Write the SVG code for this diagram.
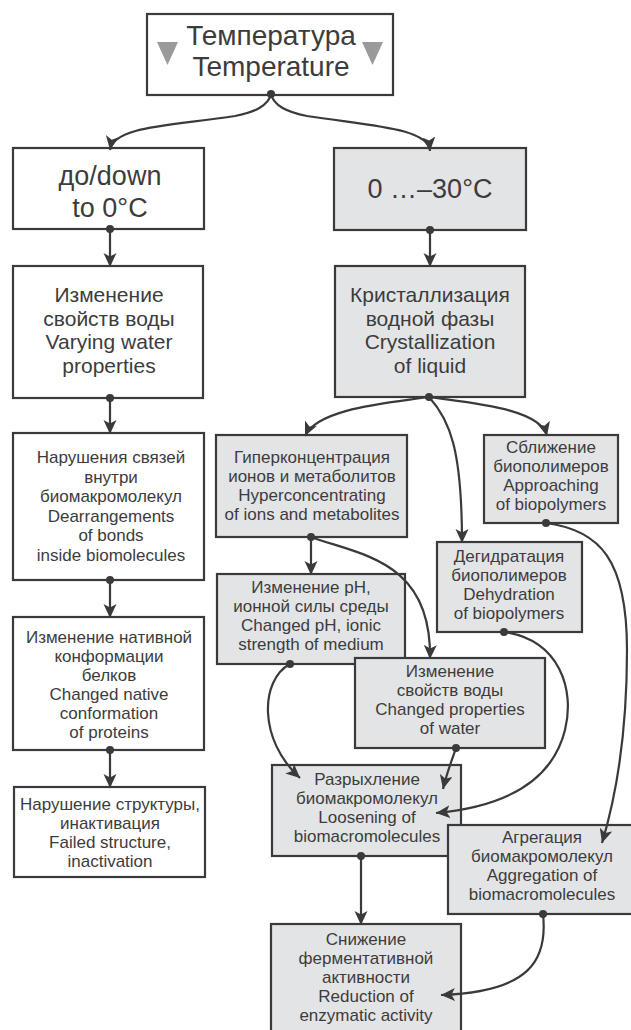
<svg xmlns="http://www.w3.org/2000/svg" width="631" height="1030" viewBox="0 0 631 1030">
<defs>
<style>
.bx{fill:#ffffff;stroke:#3a3a3a;stroke-width:2.2}
.gb{fill:#e3e4e6;stroke:#3a3a3a;stroke-width:2.2}
.t{font-family:"Liberation Sans",Arial,sans-serif;fill:#3c3c3c;text-anchor:middle}
.big{font-size:27px}
.mid{font-size:21px}
.sm{font-size:17px}
.c{fill:none;stroke:#3a3a3a;stroke-width:2.2;marker-end:url(#ah)}
.dot{fill:#3a3a3a}
.tri{fill:#9a9a9a}
</style>
<marker id="ah" markerUnits="userSpaceOnUse" markerWidth="16" markerHeight="14" refX="14" refY="6.5" orient="auto">
<path d="M0,0 L14,6.5 L0,13 L3.5,6.5 z" fill="#3a3a3a"/>
</marker>
</defs>
<rect width="631" height="1030" fill="#ffffff"/>

<g id="n-temp">
<rect class="bx" x="147" y="14" width="246" height="81"/>
<polygon class="tri" points="157,42 178,42 167.5,65"/>
<polygon class="tri" points="362,42 383,42 372.5,65"/>
<text class="t" font-size="28" x="271" y="45">Температура</text>
<text class="t" font-size="28" x="271" y="76">Temperature</text>
</g>

<g id="n-down">
<rect class="bx" x="13" y="148" width="191" height="81"/>
<text class="t big" x="110" y="185">до/down</text>
<text class="t big" x="110" y="217">to 0°C</text>
</g>

<g id="n-varying">
<rect class="bx" x="13" y="266" width="190" height="132"/>
<text class="t mid"><tspan x="109" y="302">Изменение</tspan><tspan x="109" y="325.5">свойств воды</tspan><tspan x="109" y="349">Varying water</tspan><tspan x="109" y="372.5">properties</tspan></text>
</g>

<g id="n-bonds">
<rect class="bx" x="13" y="433" width="191" height="147"/>
<text class="t sm"><tspan x="111" y="463">Нарушения связей</tspan><tspan x="111" y="482.5">внутри</tspan><tspan x="111" y="502">биомакромолекул</tspan><tspan x="111" y="521.5">Dearrangements</tspan><tspan x="111" y="541">of bonds</tspan><tspan x="111" y="560.5">inside biomolecules</tspan></text>
</g>

<g id="n-native">
<rect class="bx" x="13" y="617" width="191" height="133"/>
<text class="t sm"><tspan x="109" y="643">Изменение нативной</tspan><tspan x="109" y="662">конформации</tspan><tspan x="109" y="681">белков</tspan><tspan x="109" y="700">Changed native</tspan><tspan x="109" y="719">conformation</tspan><tspan x="109" y="738">of proteins</tspan></text>
</g>

<g id="n-failed">
<rect class="bx" x="14" y="787" width="191" height="90"/>
<text class="t sm"><tspan x="110" y="810">Нарушение структуры,</tspan><tspan x="110" y="829">инактивация</tspan><tspan x="110" y="848">Failed structure,</tspan><tspan x="110" y="867">inactivation</tspan></text>
</g>

<g id="n-range">
<rect class="gb" x="334" y="148" width="192" height="82"/>
<text class="t big" x="430" y="198">0 …–30°C</text>
</g>

<g id="n-cryst">
<rect class="gb" x="335" y="266" width="190" height="131"/>
<text class="t mid"><tspan x="430" y="302">Кристаллизация</tspan><tspan x="430" y="325.5">водной фазы</tspan><tspan x="430" y="349">Crystallization</tspan><tspan x="430" y="372.5">of liquid</tspan></text>
</g>

<g id="n-hyper">
<rect class="gb" x="216" y="435" width="191" height="102"/>
<text class="t sm"><tspan x="312" y="463">Гиперконцентрация</tspan><tspan x="312" y="482">ионов и метаболитов</tspan><tspan x="312" y="501">Hyperconcentrating</tspan><tspan x="312" y="520">of ions and metabolites</tspan></text>
</g>

<g id="n-approach">
<rect class="gb" x="484" y="435" width="134" height="88"/>
<text class="t sm"><tspan x="551" y="453">Сближение</tspan><tspan x="551" y="472">биополимеров</tspan><tspan x="551" y="491">Approaching</tspan><tspan x="551" y="510">of biopolymers</tspan></text>
</g>

<g id="n-dehyd">
<rect class="gb" x="437" y="542" width="145" height="90"/>
<text class="t sm"><tspan x="509" y="562">Дегидратация</tspan><tspan x="509" y="581">биополимеров</tspan><tspan x="509" y="600">Dehydration</tspan><tspan x="509" y="619">of biopolymers</tspan></text>
</g>

<g id="n-ph">
<rect class="gb" x="217" y="574" width="188" height="90"/>
<text class="t sm"><tspan x="311" y="593">Изменение pH,</tspan><tspan x="311" y="612">ионной силы среды</tspan><tspan x="311" y="631">Changed pH, ionic</tspan><tspan x="311" y="650">strength of medium</tspan></text>
</g>

<g id="n-water">
<rect class="gb" x="355" y="658" width="190" height="90"/>
<text class="t sm"><tspan x="450" y="677">Изменение</tspan><tspan x="450" y="696">свойств воды</tspan><tspan x="450" y="715">Changed properties</tspan><tspan x="450" y="734">of water</tspan></text>
</g>

<g id="n-loosen">
<rect class="gb" x="272" y="765" width="189" height="91"/>
<text class="t sm"><tspan x="367" y="785">Разрыхление</tspan><tspan x="367" y="804">биомакромолекул</tspan><tspan x="367" y="823">Loosening of</tspan><tspan x="367" y="842">biomacromolecules</tspan></text>
</g>

<g id="n-aggr">
<rect class="gb" x="448" y="825" width="186" height="89"/>
<text class="t sm"><tspan x="542" y="843">Агрегация</tspan><tspan x="542" y="862">биомакромолекул</tspan><tspan x="542" y="881">Aggregation of</tspan><tspan x="542" y="900">biomacromolecules</tspan></text>
</g>

<g id="n-reduce">
<rect class="gb" x="271" y="924" width="190" height="112"/>
<text class="t sm"><tspan x="366" y="945">Снижение</tspan><tspan x="366" y="964">ферментативной</tspan><tspan x="366" y="983">активности</tspan><tspan x="366" y="1002">Reduction of</tspan><tspan x="366" y="1021">enzymatic activity</tspan></text>
</g>

<g id="connectors">
<path class="c" d="M271,94 C268,106 255,112 235,116 C170,126 114,126 110,150"/>
<path class="c" d="M271,94 C274,106 287,112 307,116 C372,126 428,128 430,151"/>
<path class="c" d="M110,229 L110,267"/>
<path class="c" d="M430,230 L430,267"/>
<path class="c" d="M110,398 L110,434"/>
<path class="c" d="M110,580 L110,618"/>
<path class="c" d="M110,750 L110,788"/>
<path class="c" d="M429,397 C390,403 318,408 305,436"/>
<path class="c" d="M429,397 C470,403 540,408 547,436"/>
<path class="c" d="M429,397 C450,420 462,450 462,543"/>
<path class="c" d="M311,537 L311,575"/>
<path class="c" d="M311,537 C360,555 432,560 430,659"/>
<path class="c" d="M290,664 C260,680 258,740 300,778"/>
<path class="c" d="M456,748 C452,760 447,772 443,789"/>
<path class="c" d="M504,632 C560,640 575,690 565,730 C550,790 490,808 436,813"/>
<path class="c" d="M546,523 C600,530 627,560 627,650 C627,740 615,800 602,843"/>
<path class="c" d="M361,856 L361,925"/>
<path class="c" d="M543,914 C548,960 530,992 441,995"/>
<circle class="dot" cx="271" cy="94" r="4"/>
<circle class="dot" cx="110" cy="229" r="4"/>
<circle class="dot" cx="430" cy="230" r="4"/>
<circle class="dot" cx="110" cy="398" r="4"/>
<circle class="dot" cx="110" cy="580" r="4"/>
<circle class="dot" cx="110" cy="750" r="4"/>
<circle class="dot" cx="429" cy="397" r="4"/>
<circle class="dot" cx="311" cy="537" r="4"/>
<circle class="dot" cx="546" cy="523" r="4"/>
<circle class="dot" cx="504" cy="632" r="4"/>
<circle class="dot" cx="290" cy="664" r="4"/>
<circle class="dot" cx="456" cy="748" r="4"/>
<circle class="dot" cx="361" cy="856" r="4"/>
<circle class="dot" cx="543" cy="914" r="4"/>
</g>
</svg>
